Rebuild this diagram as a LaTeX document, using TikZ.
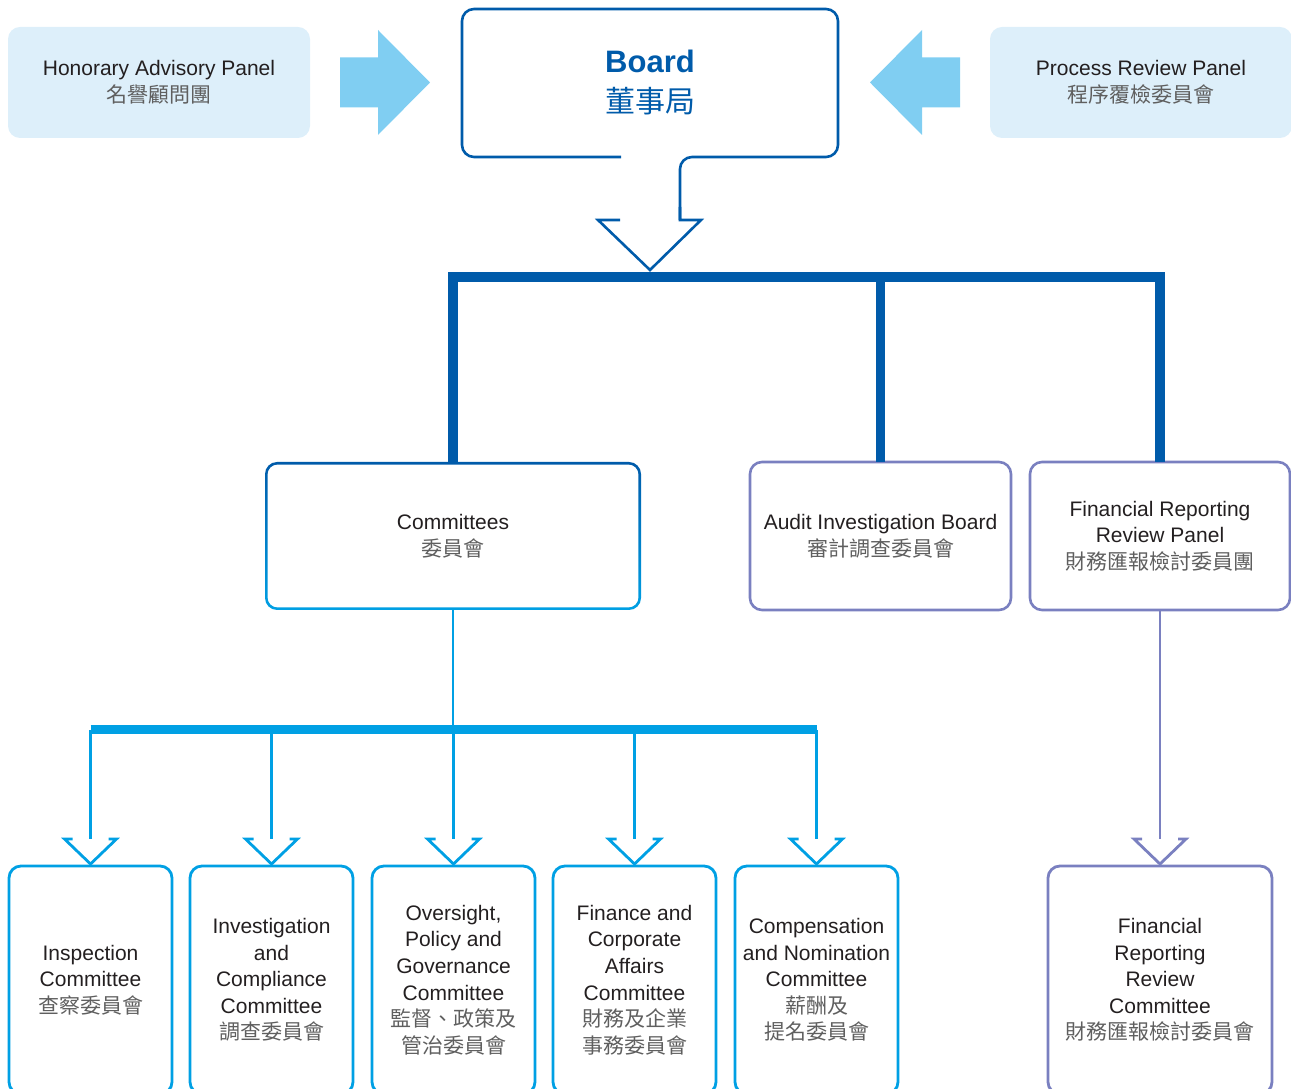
\documentclass[tikz,border=0pt]{standalone}
\usepackage{fontspec}
\setmainfont{Liberation Sans}
\newfontfamily\cjk{Noto Sans CJK TC}
\usepackage{tikz}
\usetikzlibrary{calc}
\definecolor{boardblue}{RGB}{0,91,170}
\definecolor{cttblue}{RGB}{0,160,228}
\definecolor{frpurple}{RGB}{122,128,192}
\definecolor{panelfill}{RGB}{221,239,250}
\definecolor{arrowfill}{RGB}{128,206,242}
\definecolor{inkgrey}{RGB}{35,31,32}
\definecolor{cjkgrey}{RGB}{95,95,95}
\newcommand{\zh}[1]{{\cjk\color{cjkgrey}#1}}

\begin{document}
\begin{tikzpicture}[x=1pt,y=1pt,
	  every node/.style={font=\fontsize{21}{26.6}\selectfont,text=inkgrey,align=center,outer sep=0pt},
	  panel/.style={fill=panelfill,rounded corners=12pt,minimum width=302,minimum height=111},
	  upbox/.style={draw,line width=2.6pt,rounded corners=12pt,minimum height=148},
	  lowbox/.style={draw=cttblue,line width=2.8pt,rounded corners=12pt,minimum width=163,minimum height=228},
	  boardline/.style={draw=boardblue,line width=2.6pt},
	  cttline/.style={draw=cttblue,line width=2.8pt},
	  frline/.style={draw=frpurple,line width=2.8pt},
	  ]
	  \clip (0,0) rectangle (1291,1088);
	  % top row
	  \node[panel] (hap) at (159,1005.5) {Honorary Advisory Panel\\\zh{名譽顧問團}};
	  \node[panel] (prp) at (1141,1005.5) {Process Review Panel\\\zh{程序覆檢委員會}};
	  \node[minimum width=376,minimum height=148,text=boardblue,font=\fontsize{31}{40}\selectfont] (board) at (650,1005)
	    {{\bfseries Board}\\{\cjk\fontsize{30}{40}\selectfont 董事局}};
	  \fill[arrowfill] ([xshift=30pt,yshift=25pt]hap.east) -- ++(38pt,0) -- ++(0,27.5pt) -- ++(52pt,-52.5pt)
	    -- ++(-52pt,-52.5pt) -- ++(0,27.5pt) -- ++(-38pt,0) -- cycle;
	  \fill[arrowfill] ([xshift=-30pt,yshift=25pt]prp.west) -- ++(-38pt,0) -- ++(0,27.5pt) -- ++(-52pt,-52.5pt)
	    -- ++(52pt,-52.5pt) -- ++(0,27.5pt) -- ++(38pt,0) -- cycle;
	  \draw[boardline,rounded corners=12pt] ([xshift=159pt]board.south west) -- (board.south west) -- (board.north west)
	    -- (board.north east) -- (board.south east) -- ([xshift=30pt]board.south) -- ([xshift=30pt,yshift=-63pt]board.south);
	  \draw[boardline] ([xshift=30pt,yshift=-50pt]board.south) -- ++(0,-13pt) -- ++(21pt,0) -- ++(-51pt,-50pt)
	    -- ++(-52pt,50pt) -- ++(22pt,0);
	  % second row
	  \node[upbox,draw=none,minimum width=376,top color=boardblue,bottom color=cttblue] (commit) at (453,552) {};
	  \node[fill=white,rounded corners=10pt,minimum width=370.8,minimum height=142.8] (committxt) at (commit) {Committees\\\zh{委員會}};
	  \node[upbox,draw=frpurple,minimum width=261] (aib) at (880.5,552) {Audit Investigation Board\\\zh{審計調查委員會}};
	  \node[upbox,draw=frpurple,minimum width=260] (frrp) at (1160,552) {Financial Reporting\\Review Panel\\\zh{財務匯報檢討委員團}};
	  \coordinate (bbar) at (650,811);
	  \draw[boardline,line width=10pt] (commit.north) |- (frrp.north |- bbar) -- (frrp.north);
	  \draw[boardline,line width=8.5pt] (aib.north |- bbar) -- (aib.north);
	  % committees
	  \foreach \nm/\xx/\txt in {insp/90.5/{Inspection\\Committee\\\zh{查察委員會}},
	      invc/271.5/{Investigation\\and\\Compliance\\Committee\\\zh{調查委員會}},
	      opgc/453.5/{Oversight,\\Policy and\\Governance\\Committee\\\zh{監督、政策及}\\\zh{管治委員會}},
	      fcac/634.5/{Finance and\\Corporate\\Affairs\\Committee\\\zh{財務及企業}\\\zh{事務委員會}},
	      cnc/816.5/{Compensation\\and Nomination\\Committee\\\zh{薪酬及}\\\zh{提名委員會}}}
	    \node[lowbox] (\nm) at (\xx,108) {\txt};
	  \node[lowbox,draw=frpurple,minimum width=224] (frrc) at (1160,108) {Financial\\Reporting\\Review\\Committee\\\zh{財務匯報檢討委員會}};
	  \coordinate (cbar) at (453,358);
	  \draw[cttline] (commit.south) -- (commit.south |- cbar);
	  \draw[cttline,line width=9pt] (insp.north |- cbar) -- (cnc.north |- cbar);
	  \foreach \nm in {insp,invc,opgc,fcac,cnc}{
	    \draw[cttline] (\nm.north |- cbar) -- ([yshift=27pt]\nm.north);
	    \draw[cttline] ([shift={(-18pt,27pt)}]\nm.north) -- ++(-8pt,0) -- ([yshift=2pt]\nm.north) -- ++(26pt,25pt) -- ++(-8pt,0);
	  }
	  \draw[frline] (frrp.south) -- ([yshift=27pt]frrc.north);
	  \draw[frline] ([shift={(-18pt,27pt)}]frrc.north) -- ++(-8pt,0) -- ([yshift=2pt]frrc.north) -- ++(26pt,25pt) -- ++(-8pt,0);
	\end{tikzpicture}
\end{document}
